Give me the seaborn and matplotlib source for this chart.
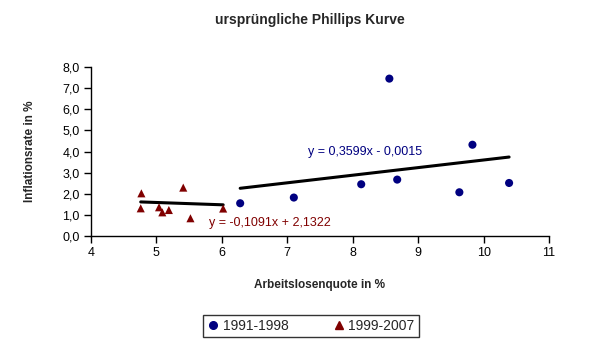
import numpy as np
import pandas as pd
import matplotlib
matplotlib.use("Agg")
import matplotlib.pyplot as plt
import seaborn as sns

# Unemployment rate (%) and inflation rate (%) per period
ue_1991_1998 = [6.28, 7.10, 8.13, 8.56, 8.68, 9.63, 9.83, 10.39]
inf_1991_1998 = [1.55, 1.82, 2.45, 7.45, 2.67, 2.07, 4.32, 2.51]
ue_1999_2007 = [4.77, 4.76, 5.04, 5.09, 5.19, 5.41, 5.52, 6.02]
inf_1999_2007 = [2.02, 1.31, 1.36, 1.12, 1.23, 2.29, 0.84, 1.30]

periods = ["1991-1998", "1999-2007"]
# Linear trend coefficients (slope, intercept)
trend_1991_1998 = (0.3599, -0.0015)
trend_1999_2007 = (-0.1091, 2.1322)

x_ticks = [4, 5, 6, 7, 8, 9, 10, 11]
y_ticks = [0, 1, 2, 3, 4, 5, 6, 7, 8]

navy = "#000080"
maroon = "#800000"

df = pd.DataFrame({
    "Arbeitslosenquote": ue_1991_1998 + ue_1999_2007,
    "Inflationsrate": inf_1991_1998 + inf_1999_2007,
    "Zeitraum": [periods[0]] * len(ue_1991_1998) + [periods[1]] * len(ue_1999_2007),
})

sns.set_theme(style="white")
plt.rcParams["font.family"] = ["Liberation Sans", "DejaVu Sans"]

fig = plt.figure(figsize=(6.08, 3.42), dpi=100)
ax = fig.add_axes([91 / 608, 1 - 236 / 342, (549 - 91) / 608, (236 - 67) / 342])

sns.scatterplot(
    data=df, x="Arbeitslosenquote", y="Inflationsrate",
    hue="Zeitraum", style="Zeitraum",
    palette={periods[0]: navy, periods[1]: maroon},
    markers={periods[0]: "o", periods[1]: "^"},
    s=34, edgecolor="none", ax=ax, legend=False, zorder=3,
)

# Trend lines over each period's range
for ue, (m, b) in [(ue_1991_1998, trend_1991_1998), (ue_1999_2007, trend_1999_2007)]:
    xs = np.array([min(ue), max(ue)])
    ax.plot(xs, m * xs + b, color="black", lw=2.2, zorder=2)

def fmt(v):
    return f"{v:.4f}".replace(".", ",")

ax.text(7.32, 3.97, f"y = {fmt(trend_1991_1998[0])}x - {fmt(abs(trend_1991_1998[1]))}",
        color=navy, fontsize=9, va="center", ha="left")
ax.text(5.8, 0.62, f"y = {fmt(trend_1999_2007[0])}x + {fmt(trend_1999_2007[1])}",
        color=maroon, fontsize=9, va="center", ha="left")

ax.set_xlim(4, 11)
ax.set_ylim(0, 8)
ax.set_xticks(x_ticks)
ax.set_yticks(y_ticks)
ax.set_xticklabels([str(t) for t in x_ticks], fontsize=9)
ax.set_yticklabels([f"{t:.1f}".replace(".", ",") for t in y_ticks], fontsize=9)
ax.tick_params(axis="both", direction="out", length=5, width=1, color="black",
               bottom=True, left=True, pad=3, labelcolor="black")
for side in ["top", "right"]:
    ax.spines[side].set_visible(False)
for side in ["left", "bottom"]:
    ax.spines[side].set_color("black")
    ax.spines[side].set_linewidth(1)
ax.grid(False)

ax.set_xlabel("Arbeitslosenquote in %", fontsize=8.5, fontweight="bold", labelpad=14)
ax.set_ylabel("Inflationsrate in %", fontsize=8.5, fontweight="bold", labelpad=19)

fig.text(310 / 608, 1 - 20 / 342, "ursprüngliche Phillips Kurve",
         fontsize=10, fontweight="bold", ha="center", va="center")

handles = [
    plt.Line2D([], [], marker="o", color=navy, ls="none", markersize=5.5),
    plt.Line2D([], [], marker="^", color=maroon, ls="none", markersize=5.5),
]
leg = fig.legend(handles, periods, loc="center", bbox_to_anchor=(311 / 608, 1 - 326 / 342),
                 ncol=2, frameon=True, fancybox=False, fontsize=10,
                 handletextpad=0.3, columnspacing=3.2, borderpad=0.3, handlelength=0.8)
leg.get_frame().set_edgecolor("black")
leg.get_frame().set_linewidth(1)

fig.savefig("out.png", dpi=100, facecolor="white")
